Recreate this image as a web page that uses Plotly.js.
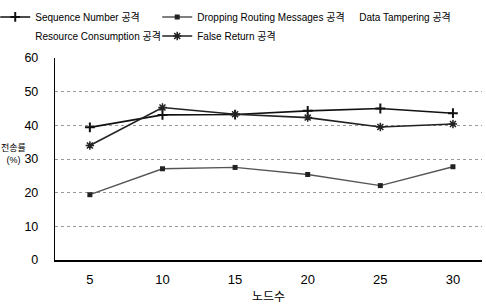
<!DOCTYPE html>
<html><head><meta charset="utf-8">
<script src="https://cdn.plot.ly/plotly-3.0.1.min.js"></script>
<style>body{margin:0;padding:0;background:#fff}#c{width:486px;height:308px}</style>
</head><body><div id="c"></div>
<script>
const nodes = [5, 10, 15, 20, 25, 30];
const seqNumber = [39.4, 43.1, 43.2, 44.3, 45.0, 43.6];
const droppingRouting = [19.4, 27.1, 27.5, 25.4, 22.1, 27.7];
const dataTampering = [null, null, null, null, null, null];
const resourceConsumption = [null, null, null, null, null, null];
const falseReturn = [34.0, 45.3, 43.3, 42.3, 39.5, 40.4];
const yTicks = [0, 10, 20, 30, 40, 50, 60];

const F = '"Liberation Sans", "Noto Sans CJK KR", sans-serif';
const traces = [
  {name: 'Sequence Number 공격', x: nodes, y: seqNumber, mode: 'lines+markers',
   line: {color: '#111', width: 1.6}, marker: {symbol: 'cross-thin-open', size: 7, line: {color: '#111', width: 2}}},
  {name: 'Dropping Routing Messages 공격', x: nodes, y: droppingRouting, mode: 'lines+markers',
   line: {color: '#555', width: 1.4}, marker: {symbol: 'square', size: 5, color: '#222'}},
  {name: 'Data Tampering 공격', x: nodes, y: dataTampering, mode: 'lines',
   line: {color: 'rgba(0,0,0,0)', width: 0}},
  {name: 'Resource Consumption 공격', x: nodes, y: resourceConsumption, mode: 'lines',
   line: {color: 'rgba(0,0,0,0)', width: 0}},
  {name: 'False Return 공격', x: nodes, y: falseReturn, mode: 'lines+markers',
   line: {color: '#222', width: 1.6}, marker: {symbol: 'asterisk-open', size: 7, line: {color: '#111', width: 1.5}}}
];
const layout = {
  width: 486, height: 308,
  margin: {l: 55, r: 4, t: 58, b: 48, autoexpand: false},
  paper_bgcolor: '#fff', plot_bgcolor: '#fff',
  font: {family: F, size: 12, color: '#000'},
  showlegend: true,
  legend: {orientation: 'h', x: -0.14, xanchor: 'left', y: 1.275, yanchor: 'top',
    entrywidth: 117, entrywidthmode: 'pixels', itemwidth: 30, tracegroupgap: 0,
    font: {family: F, size: 10, color: '#000'}, traceorder: 'normal'},
  xaxis: {range: [2.6, 32], tickvals: nodes, ticktext: nodes.map(String), showgrid: false,
    zeroline: false, showline: true, linecolor: '#000', linewidth: 1.5, ticks: '', ticklabelstandoff: 7,
    tickfont: {size: 13}, title: {text: '노드수', font: {size: 12}, standoff: 6}},
  yaxis: {range: [0, 60], tickvals: yTicks, showgrid: true, gridcolor: '#999', griddash: 'dot', gridwidth: 1,
    zeroline: false, showline: true, linecolor: '#000', linewidth: 1.2, ticks: '', ticklabelstandoff: 13,
    tickfont: {size: 12.5}},
  annotations: [{text: '전송률<br>(%)', xref: 'paper', yref: 'paper', x: -0.1288, y: 0.525,
    xanchor: 'left', yanchor: 'middle', showarrow: false, align: 'center', borderpad: 0, font: {size: 9}}]
};
Plotly.newPlot('c', traces, layout, {displayModeBar: false, staticPlot: true});
</script></body></html>
